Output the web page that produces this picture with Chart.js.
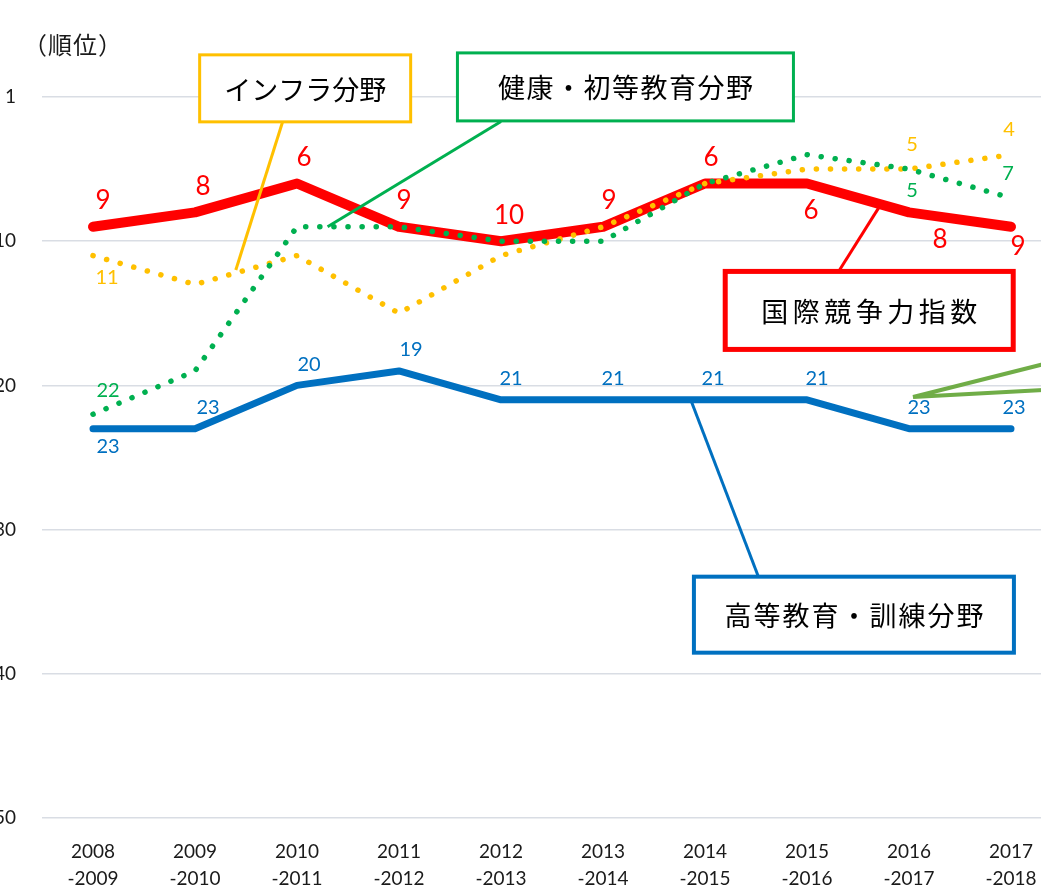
<!DOCTYPE html>
<html>
<head>
<meta charset="utf-8">
<script src="https://cdn.jsdelivr.net/npm/chart.js@4/dist/chart.umd.min.js"></script>
<style>
html, body { margin: 0; padding: 0; background: #fff; }
#wrap { position: relative; width: 1041px; height: 895px; overflow: hidden; }
#myChart { position: absolute; left: -30px; top: 0; }
</style>
</head>
<body>
<div id="wrap"><canvas id="myChart" width="1100" height="895"></canvas></div>
<script>
// 年度
const years = [
    ['2008', '-2009'], ['2009', '-2010'], ['2010', '-2011'], ['2011', '-2012'], ['2012', '-2013'],
    ['2013', '-2014'], ['2014', '-2015'], ['2015', '-2016'], ['2016', '-2017'], ['2017', '-2018']
];
// 順位
const overall   = [9, 8, 6, 9, 10, 9, 6, 6, 8, 9];          // 国際競争力指数
const infra     = [11, 13, 11, 15, 11, 9, 6, 5, 5, 4];      // インフラ分野
const health    = [22, 19, 9, 9, 10, 10, 6, 4, 5, 7];       // 健康・初等教育分野
const higherEdu = [23, 23, 20, 19, 21, 21, 21, 21, 23, 23]; // 高等教育・訓練分野
const yTicks = [0, 10, 20, 30, 40, 50];
const yTickLabels = ['1', '10', '20', '30', '40', '50'];

// 数値ラベルの位置 a=上, b=下, ''=なし
const overallLab = ['a', 'a', 'a', 'a', 'a', 'a', 'a', 'b', 'b', 'b'];
const infraLab   = ['b', '', '', '', '', '', '', '', 'a', 'a'];
const healthLab  = ['a', '', '', '', '', '', '', '', 'b', 'a'];
const eduLab     = ['b', 'a', 'a', 'a', 'a', 'a', 'a', 'a', 'a', 'a'];
// ラベルの横ずれ (px)
const overallDx = [10, 8, 7, 5, 8, 6, 6, 4, 31, 7];
const infraDx   = [14, 0, 0, 0, 0, 0, 0, 0, 3, -2];
const healthDx  = [15, 0, 0, 0, 0, 0, 0, 0, 3, -3];
const eduDx     = [15, 13, 12, 12, 10, 10, 8, 10, 10, 3];

const FONT = 'Lato, "Noto Sans CJK JP", sans-serif';
const JP = '"Noto Sans CJK JP", sans-serif';

const labelSets = [
    { ds: 2, pos: overallLab, dx: overallDx, color: '#FF0000', size: 26, up: -26, down: 27 },
    { ds: 3, pos: eduLab, dx: eduDx, color: '#0070C0', size: 20, up: -21, down: 18 },
    { ds: 0, pos: infraLab, dx: infraDx, color: '#FFC000', size: 20, up: -25, down: 22 },
    { ds: 1, pos: healthLab, dx: healthDx, color: '#00B050', size: 20, up: -24, down: 21 }
];

// 吹き出し (位置は軸の値で指定)
const callouts = [
    { text: 'インフラ分野', color: '#FFC000', lw: 3, cx: 2.08, cy: -0.6, w: 211, h: 67, sp: 0, from: [1.86, 1.7], to: [1.40, 12.0] },
    { text: '健康・初等教育分野', color: '#00B050', lw: 3, cx: 5.22, cy: -0.7, w: 336, h: 68, sp: 1.5, from: [4.0, 1.7], to: [2.30, 9.0] },
    { text: '国際競争力指数', color: '#FF0000', lw: 5, cx: 7.61, cy: 14.8, w: 288, h: 78, sp: 4.5, from: [7.31, 12.1], to: [7.71, 7.6] },
    { text: '高等教育・訓練分野', color: '#0070C0', lw: 4, cx: 7.46, cy: 35.9, w: 320, h: 76, sp: 2, from: [6.52, 33.2], to: [5.86, 21.0] }
];

const overlay = {
    id: 'overlay',
    afterDatasetsDraw(chart) {
        const ctx = chart.ctx;
        const xs = chart.scales.x, ys = chart.scales.y;
        ctx.save();

        // 右端の吹き出し線 (枠は画面外)
        ctx.strokeStyle = '#70AD47';
        ctx.lineWidth = 4;
        ctx.beginPath();
        ctx.moveTo(xs.getPixelForValue(9.5), ys.getPixelForValue(18.2));
        ctx.lineTo(xs.getPixelForValue(8.04), ys.getPixelForValue(20.8));
        ctx.lineTo(xs.getPixelForValue(9.5), ys.getPixelForValue(20.25));
        ctx.stroke();

        callouts.forEach(c => {
            ctx.strokeStyle = c.color;
            ctx.lineWidth = 3;
            ctx.beginPath();
            ctx.moveTo(xs.getPixelForValue(c.from[0]), ys.getPixelForValue(c.from[1]));
            ctx.lineTo(xs.getPixelForValue(c.to[0]), ys.getPixelForValue(c.to[1]));
            ctx.stroke();
            const cx = xs.getPixelForValue(c.cx), cy = ys.getPixelForValue(c.cy);
            ctx.fillStyle = '#fff';
            ctx.fillRect(cx - c.w / 2, cy - c.h / 2, c.w, c.h);
            ctx.lineWidth = c.lw;
            ctx.strokeRect(cx - c.w / 2, cy - c.h / 2, c.w, c.h);
            ctx.fillStyle = '#000';
            ctx.font = '27px ' + JP;
            ctx.letterSpacing = c.sp + 'px';
            ctx.textAlign = 'center';
            ctx.textBaseline = 'middle';
            ctx.fillText(c.text, cx + c.sp / 2, cy + 1);
        });
        ctx.letterSpacing = '0px';

        // 数値ラベル
        labelSets.forEach(s => {
            const meta = chart.getDatasetMeta(s.ds);
            const vals = chart.data.datasets[s.ds].data;
            ctx.font = s.size + 'px ' + FONT;
            ctx.fillStyle = s.color;
            ctx.textAlign = 'center';
            ctx.textBaseline = 'middle';
            meta.data.forEach((pt, i) => {
                if (!s.pos[i]) return;
                let dy = s.pos[i] === 'a' ? s.up : s.down;
                if (s.ds === 2 && i === 9) dy = 20;
                ctx.fillText(String(vals[i]), pt.x + s.dx[i], pt.y + dy);
            });
        });

        // 軸タイトル
        ctx.fillStyle = '#1a1a1a';
        ctx.font = '24px ' + JP;
        ctx.letterSpacing = '1px';
        ctx.textAlign = 'center';
        ctx.textBaseline = 'middle';
        ctx.fillText('（順位）', chart.chartArea.left + 31, chart.chartArea.top - 52);
        ctx.restore();
    }
};

const dotted = {
    borderWidth: 5.5,
    borderDash: [0.1, 14],
    borderCapStyle: 'round',
    pointRadius: 0,
    fill: false,
    tension: 0
};

new Chart(document.querySelector('#myChart'), {
    type: 'line',
    data: {
        labels: years,
        datasets: [
            Object.assign({ label: 'インフラ分野', data: infra, borderColor: '#FFC000', order: 1 }, dotted),
            Object.assign({ label: '健康・初等教育分野', data: health, borderColor: '#00B050', order: 0 }, dotted),
            {
                label: '国際競争力指数', data: overall, borderColor: '#FF0000', borderWidth: 10,
                borderCapStyle: 'round', borderJoinStyle: 'round', pointRadius: 0, tension: 0, order: 2
            },
            {
                label: '高等教育・訓練分野', data: higherEdu, borderColor: '#0070C0', borderWidth: 7,
                borderCapStyle: 'round', borderJoinStyle: 'round', pointRadius: 0, tension: 0, order: 3
            }
        ]
    },
    options: {
        responsive: false,
        animation: false,
        layout: { padding: { top: 97, right: 8, bottom: 0, left: 0 } },
        plugins: {
            legend: { display: false },
            tooltip: { enabled: false }
        },
        scales: {
            x: {
                offset: true,
                grid: { display: false, drawTicks: false },
                border: { display: false },
                ticks: { color: '#1a1a1a', font: { family: FONT, size: 19, lineHeight: 1.42 }, padding: 20, maxRotation: 0, autoSkip: false },
                afterFit(scale) { scale.height = 77; }
            },
            y: {
                reverse: true,
                min: 0,
                max: 50,
                afterBuildTicks(scale) { scale.ticks = yTicks.map(v => ({ value: v })); },
                grid: { color: '#d9dde4', lineWidth: 1.5, drawTicks: false },
                border: { display: false },
                ticks: {
                    color: '#1a1a1a',
                    font: { family: FONT, size: 19 },
                    padding: 26,
                    callback: (v) => yTickLabels[yTicks.indexOf(v)]
                },
                afterFit(scale) { scale.width = 72; }
            }
        }
    },
    plugins: [overlay]
});
</script>
</body>
</html>
